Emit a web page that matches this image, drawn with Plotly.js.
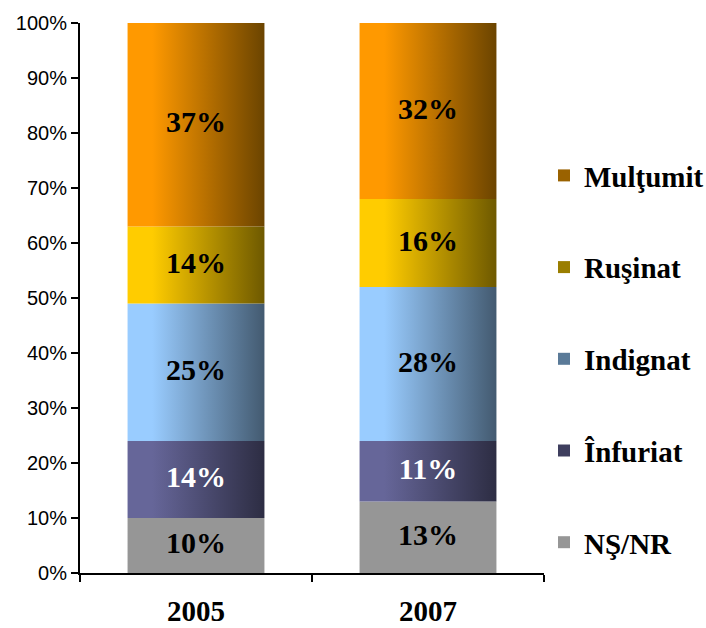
<!DOCTYPE html>
<html>
<head>
<meta charset="utf-8">
<script src="https://cdn.plot.ly/plotly-3.0.1.min.js"></script>
<style>html,body{margin:0;padding:0;background:#fff;}#chart{width:706px;height:628px;}</style>
</head>
<body>
<div id="chart"></div>
<script>
// ---- data ----
const years = ['2005', '2007'];
const seriesNames = ['NŞ/NR', 'Înfuriat', 'Indignat', 'Ruşinat', 'Mulţumit'];
const nsnr = [10, 13];
const infuriat = [14, 11];
const indignat = [25, 28];
const rusinat = [14, 16];
const multumit = [37, 32];
const yTickVals = [0, 10, 20, 30, 40, 50, 60, 70, 80, 90, 100];

// ---- styles ----
const seriesValues = [nsnr, infuriat, indignat, rusinat, multumit];
const lightColors = ['#969696', '#666699', '#99CCFF', '#FFCC00', '#FF9900'];
const darkColors  = ['#969696', '#2D2D43', '#435A70', '#6E5900', '#6B4400'];
const legendColors = ['#969696', '#3E3E5E', '#5A7A98', '#9A7E00', '#9A6200'];
const labelColors = ['#000000', '#FFFFFF', '#000000', '#000000', '#000000'];
const BAR_HALF = 0.295;
const serif = '"Liberation Serif", "Times New Roman", serif';

const traces = [];
const cum = years.map(() => 0);
const labelX = [], labelY = [], labelT = [], labelC = [];

seriesValues.forEach((vals, s) => {
  years.forEach((yr, i) => {
    const y0 = cum[i], y1 = cum[i] + vals[i];
    traces.push({
      type: 'scatter', mode: 'none', fill: 'toself',
      x: [i - BAR_HALF, i + BAR_HALF, i + BAR_HALF, i - BAR_HALF, i - BAR_HALF],
      y: [y0, y0, y1, y1, y0],
      fillcolor: lightColors[s],
      fillgradient: {
        type: 'horizontal',
        colorscale: [[0, lightColors[s]], [0.18, lightColors[s]], [1, darkColors[s]]]
      },
      showlegend: false, hoverinfo: 'skip'
    });
    labelX.push(i); labelY.push((y0 + y1) / 2);
    labelT.push(vals[i] + '%'); labelC.push(labelColors[s]);
    cum[i] = y1;
  });
});

// legend entries, top (Mulţumit) to bottom (NŞ/NR)
for (let s = seriesNames.length - 1; s >= 0; s--) {
  traces.push({
    type: 'bar', x: [null], y: [null], name: seriesNames[s],
    marker: { color: legendColors[s] }, legendgroup: 'g' + (4 - s), showlegend: true,
    hoverinfo: 'skip'
  });
}

traces.push({
  type: 'scatter', mode: 'text', x: labelX, y: labelY, text: labelT,
  textposition: 'middle center',
  textfont: { family: serif, size: 30, color: labelC, weight: 'bold' },
  showlegend: false, hoverinfo: 'skip'
});

const layout = {
  width: 706, height: 628,
  margin: { l: 80, r: 162, t: 23, b: 55, autoexpand: false },
  paper_bgcolor: '#ffffff', plot_bgcolor: '#ffffff',
  showlegend: true,
  legend: {
    x: 1.0, xanchor: 'left', y: 0.389, yanchor: 'middle',
    traceorder: 'grouped', tracegroupgap: 51,
    font: { family: serif, size: 29, color: '#000', weight: 'bold' },
    itemwidth: 30, bgcolor: 'rgba(0,0,0,0)'
  },
  xaxis: {
    type: 'linear', range: [-0.5, 1.5], fixedrange: true,
    tickvals: [0, 1], ticktext: years, ticks: '',
    showgrid: false, zeroline: false,
    showline: true, linecolor: '#000', linewidth: 2,
    tickfont: { family: serif, size: 29, color: '#000', weight: 'bold' },
    ticklabelstandoff: 11,
    minor: { tickvals: [-0.5, 0.5, 1.5], ticks: 'outside', ticklen: 7, tickwidth: 2, tickcolor: '#000', showgrid: false }
  },
  yaxis: {
    range: [0, 100], fixedrange: true,
    tickvals: yTickVals, ticktext: yTickVals.map(v => v + '%'),
    ticks: 'outside', ticklen: 7, tickwidth: 2, tickcolor: '#000',
    showgrid: false, zeroline: false,
    showline: true, linecolor: '#000', linewidth: 2,
    tickfont: { family: '"Liberation Sans", Arial, sans-serif', size: 20, color: '#000' }
  },
  bargap: 0.4
};

Plotly.newPlot('chart', traces, layout, { staticPlot: true, displayModeBar: false });
</script>
</body>
</html>
